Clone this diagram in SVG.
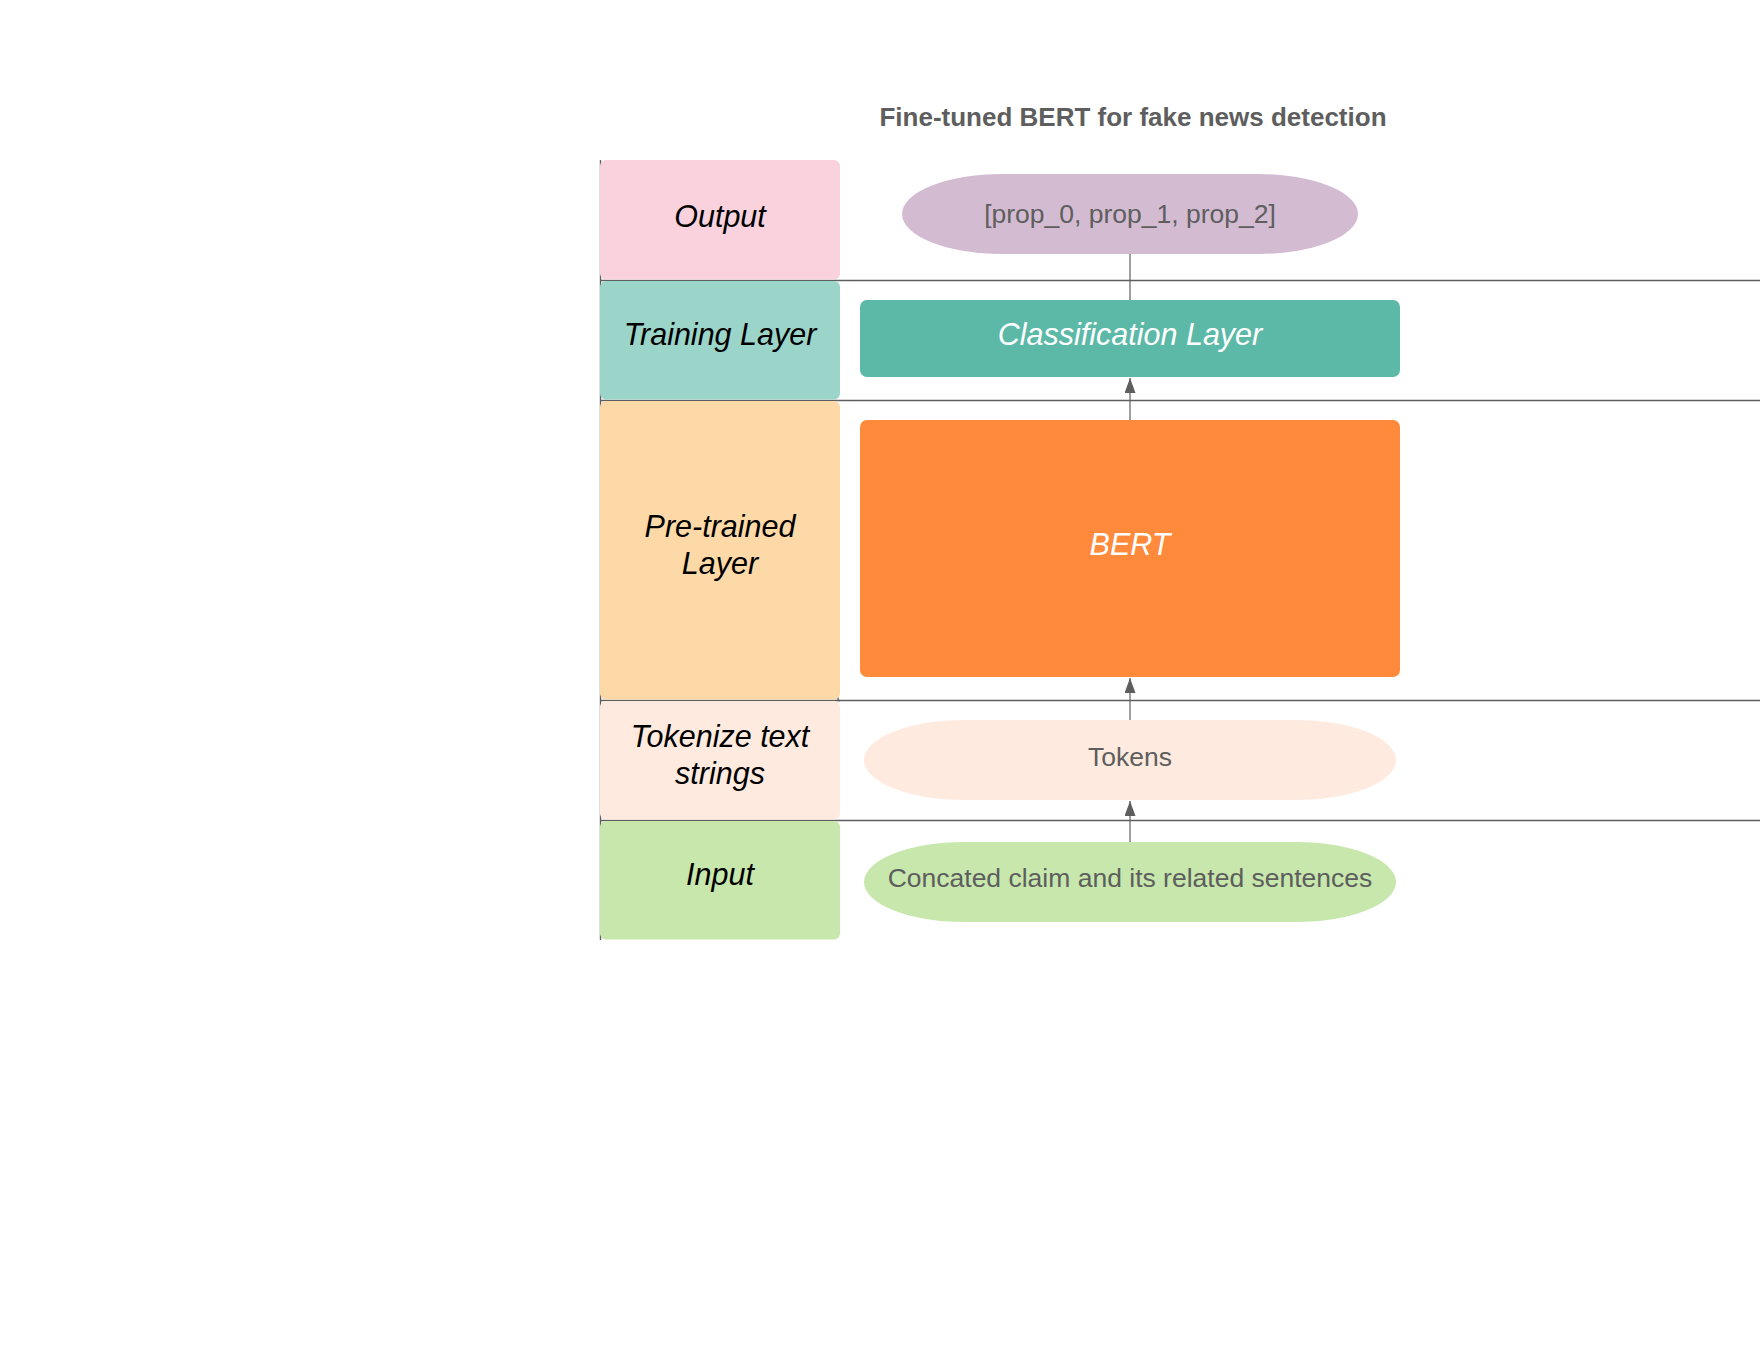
<svg xmlns="http://www.w3.org/2000/svg" width="1760" height="1360" viewBox="0 0 1760 1360">
  <style>
    .lane-text { font-family: "Liberation Sans", Arial, sans-serif; font-size: 30.5px; font-style: italic; fill: #000000; text-anchor: middle; }
    .node-text { font-family: "Liberation Sans", Arial, sans-serif; font-size: 26.5px; fill: #5e5e5e; text-anchor: middle; }
    .node-text-w { font-family: "Liberation Sans", Arial, sans-serif; font-size: 30.5px; font-style: italic; fill: #ffffff; text-anchor: middle; }
    .title { font-family: "Liberation Sans", Arial, sans-serif; font-size: 26px; font-weight: bold; fill: #5e5e5e; text-anchor: middle; }
    .sep { stroke: #5e5e5e; stroke-width: 1.4; fill: none; }
    .conn { stroke: #5e5e5e; stroke-width: 1.2; fill: none; }
  </style>
  <defs>
    <marker id="arrow" viewBox="0 0 15 11" refX="15" refY="5.5" markerWidth="15" markerHeight="11" markerUnits="userSpaceOnUse" orient="auto">
      <path d="M0,0 L15,5.5 L0,11 Z" fill="#5e5e5e"/>
    </marker>
  </defs>
  <rect width="1760" height="1360" fill="#ffffff"/>

  <text class="title" x="1133" y="126">Fine-tuned BERT for fake news detection</text>

  <g id="lane-lines">
    <line class="sep" x1="600.5" y1="160" x2="600.5" y2="940"/>
    <line class="sep" x1="600" y1="280.5" x2="1760" y2="280.5"/>
    <line class="sep" x1="600" y1="400.5" x2="1760" y2="400.5"/>
    <path class="sep" d="M838,697 L838,700.5 L1760,700.5"/>
    <line class="sep" x1="600" y1="700.5" x2="840" y2="700.5"/>
    <line class="sep" x1="600" y1="820.5" x2="1760" y2="820.5"/>
  </g>

  <g id="lane-output">
    <rect x="600" y="160" width="240" height="119.5" rx="6" fill="#f9d2de"/>
    <text class="lane-text" x="720" y="227">Output</text>
  </g>
  <g id="lane-training">
    <rect x="600" y="281" width="240" height="118.5" rx="6" fill="#9bd5ca"/>
    <text class="lane-text" x="720" y="345">Training Layer</text>
  </g>
  <g id="lane-pretrained">
    <rect x="600" y="401" width="240" height="298.5" rx="6" fill="#fed9a8"/>
    <text class="lane-text" x="720" y="537">Pre-trained</text>
    <text class="lane-text" x="720" y="574">Layer</text>
  </g>
  <g id="lane-tokenize">
    <rect x="600" y="701" width="240" height="118.5" rx="6" fill="#ffeadf"/>
    <text class="lane-text" x="720" y="747">Tokenize text</text>
    <text class="lane-text" x="720" y="784">strings</text>
  </g>
  <g id="lane-input">
    <rect x="600" y="821" width="240" height="118.5" rx="6" fill="#c7e7ac"/>
    <text class="lane-text" x="720" y="885">Input</text>
  </g>

  <g id="connectors">
    <line class="conn" x1="1130" y1="254" x2="1130" y2="300"/>
    <line class="conn" x1="1130" y1="420" x2="1130" y2="378" marker-end="url(#arrow)"/>
    <line class="conn" x1="1130" y1="720" x2="1130" y2="678" marker-end="url(#arrow)"/>
    <line class="conn" x1="1130" y1="842" x2="1130" y2="801" marker-end="url(#arrow)"/>
  </g>

  <g id="node-output">
    <rect x="902" y="174" width="456" height="80" rx="100" ry="40" fill="#d3bbd2"/>
    <text class="node-text" x="1130" y="223">[prop_0, prop_1, prop_2]</text>
  </g>
  <g id="node-classification">
    <rect x="860" y="300" width="540" height="77" rx="7" fill="#5cb9a7"/>
    <text class="node-text-w" x="1130" y="345">Classification Layer</text>
  </g>
  <g id="node-bert">
    <rect x="860" y="420" width="540" height="257" rx="7" fill="#ff8a3b"/>
    <text class="node-text-w" x="1130" y="555">BERT</text>
  </g>
  <g id="node-tokens">
    <rect x="864" y="720" width="532" height="80" rx="100" ry="40" fill="#ffeadf"/>
    <text class="node-text" x="1130" y="766">Tokens</text>
  </g>
  <g id="node-input">
    <rect x="864" y="842" width="532" height="80" rx="100" ry="40" fill="#c7e7ac"/>
    <text class="node-text" x="1130" y="887">Concated claim and its related sentences</text>
  </g>
</svg>
